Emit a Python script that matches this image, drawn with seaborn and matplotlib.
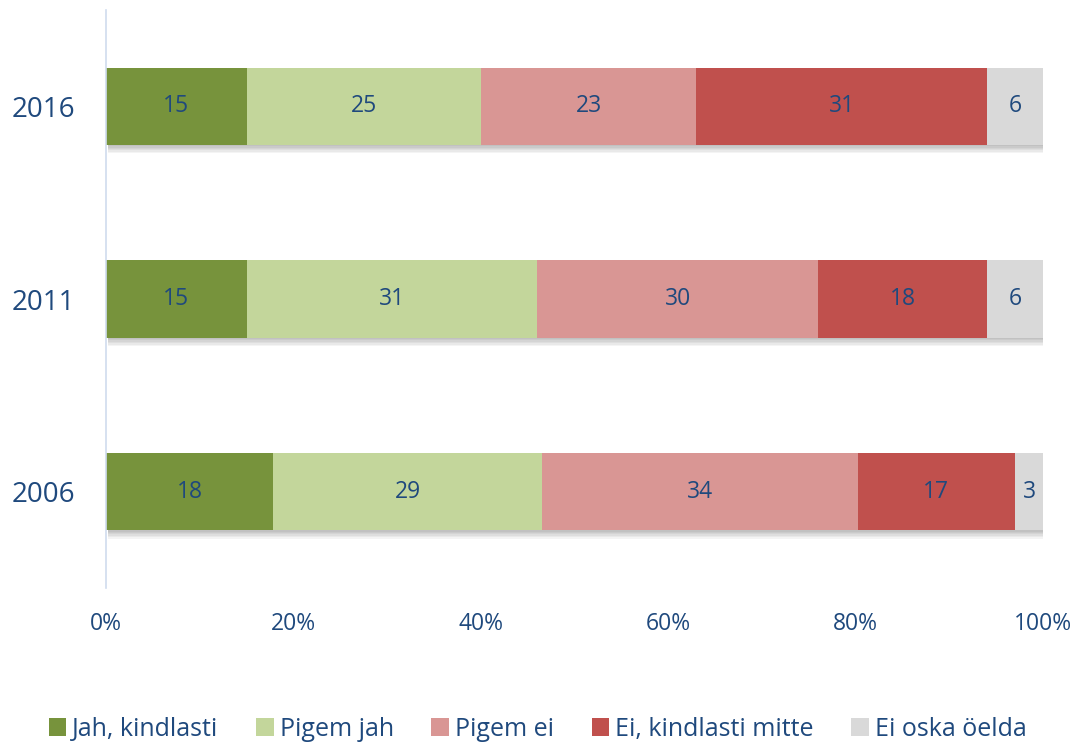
import matplotlib
matplotlib.use("Agg")
import matplotlib.pyplot as plt
import matplotlib.patheffects as pe
from matplotlib.patches import Patch
import numpy as np
import pandas as pd
import seaborn as sns

years = ["2016", "2011", "2006"]
categories = ["Jah, kindlasti", "Pigem jah", "Pigem ei", "Ei, kindlasti mitte", "Ei oska öelda"]
jah_kindlasti = [15, 15, 18]
pigem_jah = [25, 31, 29]
pigem_ei = [23, 30, 34]
ei_kindlasti = [31, 18, 17]
ei_oska = [6, 6, 3]
colors = ["#77933C", "#C3D69B", "#D99694", "#C0504D", "#D9D9D9"]
text_color = "#1F497D"

sns.set_style("white")
plt.rcParams["font.family"] = ["Open Sans", "DejaVu Sans"]

values = np.array([jah_kindlasti, pigem_jah, pigem_ei, ei_kindlasti, ei_oska], dtype=float)
shares = values / values.sum(axis=0) * 100  # 100% stacked, like Excel
cum = np.cumsum(shares, axis=0)

df = pd.DataFrame({"year": years})
for i, c in enumerate(categories):
    df[c] = cum[i]

fig = plt.figure(figsize=(10.82, 7.42), dpi=100)
ax = fig.add_axes([0.098, 0.2075, 0.866, 0.779])

# soft drop shadow made of a few faint layers
shadow = [pe.SimplePatchShadow(offset=(1.5, -k), shadow_rgbFace="#000000", alpha=0.045)
          for k in (1, 2, 3, 4, 5, 6)] + [pe.Normal()]

# draw the cumulative bars from the last segment to the first so they overlay
for i in range(len(categories) - 1, -1, -1):
    sns.barplot(data=df, x=categories[i], y="year", order=years, color=colors[i],
                width=0.4, saturation=1, ax=ax)

for i, p in enumerate(ax.patches):
    p.set_edgecolor("none")
    if i < len(years):
        p.set_path_effects(shadow)

for i in range(len(categories)):
    for j in range(len(years)):
        left = cum[i, j] - shares[i, j]
        ax.text(left + shares[i, j] / 2, j, f"{values[i, j]:.0f}", ha="center", va="center",
                fontsize=16.5, color=text_color)

ax.set_xlim(0, 100)
ax.set_ylim(2.5, -0.5)
ax.set_xticks(np.arange(0, 101, 20))
ax.set_xticklabels([f"{t}%" for t in range(0, 101, 20)])
ax.set_xlabel("")
ax.set_ylabel("")
ax.tick_params(axis="x", labelsize=16.5, labelcolor=text_color, length=0, pad=17)
ax.tick_params(axis="y", labelsize=20, labelcolor=text_color, length=0, pad=22)
for s in ["top", "right", "bottom"]:
    ax.spines[s].set_visible(False)
ax.spines["left"].set_color("#D0DCEE")
ax.spines["left"].set_linewidth(1.2)

handles = [Patch(facecolor=c, edgecolor="none") for c in colors]
leg = fig.legend(handles, categories, loc="lower center", ncol=5,
                 bbox_to_anchor=(0.497, -0.03), frameon=False, fontsize=18,
                 handlelength=0.7, handleheight=0.7, handletextpad=0.25, columnspacing=1.5)
for t in leg.get_texts():
    t.set_color(text_color)

fig.savefig("out.png", dpi=100)
